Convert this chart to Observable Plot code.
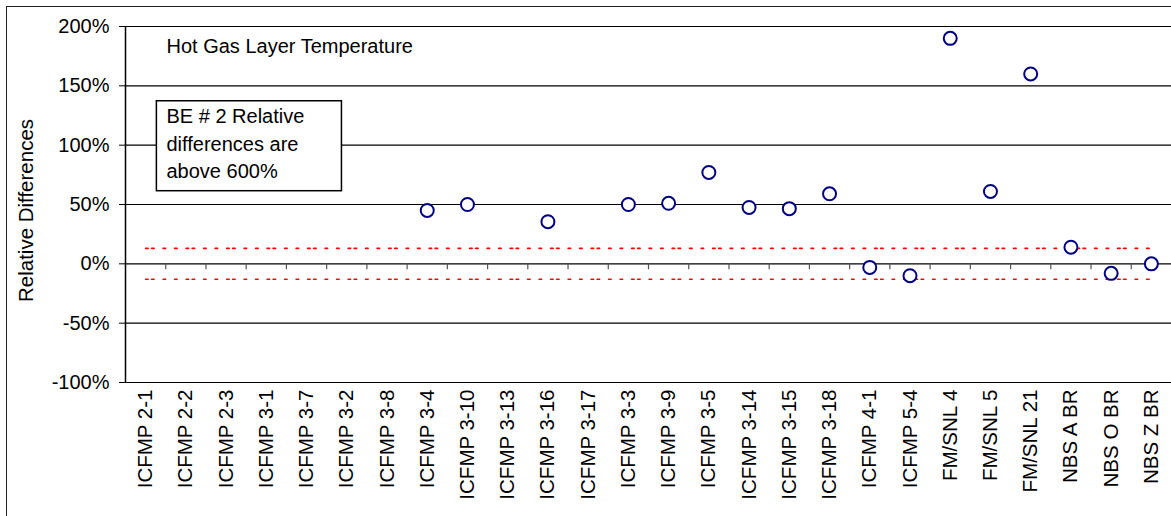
<!DOCTYPE html>
<html>
<head>
<meta charset="utf-8">
<script src="https://cdn.jsdelivr.net/npm/d3@7"></script>
<script src="https://cdn.jsdelivr.net/npm/@observablehq/plot@0.6"></script>
<style>
  html, body { margin: 0; padding: 0; background: #fff; overflow: hidden; }
  #wrap { position: relative; width: 1171px; height: 516px; overflow: hidden; }
  #border { position: absolute; left: 6px; top: 6px; width: 1300px; height: 700px; border: 1.5px solid #222; box-sizing: border-box; pointer-events: none; }
  #chart { position: absolute; left: 0; top: 0; }
</style>
</head>
<body>
<div id="wrap"><div id="border"></div><div id="chart"></div></div>
<script>
const categories = [
  "ICFMP 2-1", "ICFMP 2-2", "ICFMP 2-3", "ICFMP 3-1", "ICFMP 3-7", "ICFMP 3-2", "ICFMP 3-8",
  "ICFMP 3-4", "ICFMP 3-10", "ICFMP 3-13", "ICFMP 3-16", "ICFMP 3-17", "ICFMP 3-3", "ICFMP 3-9",
  "ICFMP 3-5", "ICFMP 3-14", "ICFMP 3-15", "ICFMP 3-18", "ICFMP 4-1", "ICFMP 5-4",
  "FM/SNL 4", "FM/SNL 5", "FM/SNL 21", "NBS A BR", "NBS O BR", "NBS Z BR"
];
const relDiff = [
  null, null, null, null, null, null, null,
  0.45, 0.50, null, 0.355, null, 0.50, 0.51,
  0.77, 0.475, 0.465, 0.59, -0.03, -0.10,
  1.90, 0.61, 1.60, 0.14, -0.08, 0.00
];
const yTicks = [-1, -0.5, 0, 0.5, 1, 1.5, 2];
const upperBound = 0.13;
const lowerBound = -0.13;
const titleText = "Hot Gas Layer Temperature";
const noteLines = ["BE # 2 Relative", "differences are", "above 600%"];
const yLabel = "Relative Differences";

const idx = categories.map((_, i) => i);
const points = idx.map(i => ({i, v: relDiff[i]})).filter(d => d.v !== null);
const boundaries = idx.slice(0, -1).map(i => i + 0.5);
const dashes = "2.5,3.5,2.5,9,2.5,9,2.5,9";

const chart = Plot.plot({
  width: 1171,
  height: 516,
  marginLeft: 125,
  marginRight: 0,
  marginTop: 26,
  marginBottom: 134,
  style: {fontFamily: "'Liberation Sans', Arial, sans-serif", fontSize: "20px", color: "#000", background: "transparent", overflow: "visible"},
  x: {type: "linear", domain: [-0.5, categories.length - 0.5], axis: null},
  y: {domain: [-1, 2], axis: null},
  marks: [
    Plot.ruleY(yTicks, {stroke: "#000", strokeWidth: 1.2}),
    Plot.ruleX([-0.5], {stroke: "#000", strokeWidth: 1.5}),
    Plot.ruleX(boundaries, {y1: 0, y2: -0.05, stroke: "#555", strokeWidth: 1.2}),
    Plot.axisY({ticks: yTicks, tickFormat: d => Math.round(d * 100) + "%", tickSize: 6, tickPadding: 10, fontSize: 20, label: null}),
    Plot.axisX({ticks: idx, tickFormat: i => categories[i], tickSize: 0, tickPadding: 7, tickRotate: -90, fontSize: 20.5, label: null}),
    Plot.lineY(idx.map(i => ({i, v: upperBound})), {x: "i", y: "v", stroke: "#ff0000", strokeWidth: 1.6, strokeDasharray: dashes}),
    Plot.lineY(idx.map(i => ({i, v: lowerBound})), {x: "i", y: "v", stroke: "#ff0000", strokeWidth: 1.6, strokeDasharray: dashes}),
    Plot.dot(points, {x: "i", y: "v", r: 6.5, stroke: "#000080", strokeWidth: 2, fill: "white"}),
    Plot.text([titleText], {frameAnchor: "top-left", dx: 41, dy: 12, textAnchor: "start", lineAnchor: "top", fontSize: 20}),
    Plot.rect([{x1: 0.28, x2: 4.88, y1: 1.37, y2: 0.612}], {x1: "x1", x2: "x2", y1: "y1", y2: "y2", fill: "white", stroke: "#000", strokeWidth: 1.5}),
    Plot.text([noteLines.join("\n")], {frameAnchor: "top-left", dx: 41, dy: 77, textAnchor: "start", lineAnchor: "top", lineHeight: 1.38, fontSize: 20}),
    Plot.text([yLabel], {frameAnchor: "left", dx: -99.5, dy: 6, rotate: -90, textAnchor: "middle", fontSize: 20.5})
  ]
});
document.getElementById("chart").appendChild(chart);
</script>
</body>
</html>
